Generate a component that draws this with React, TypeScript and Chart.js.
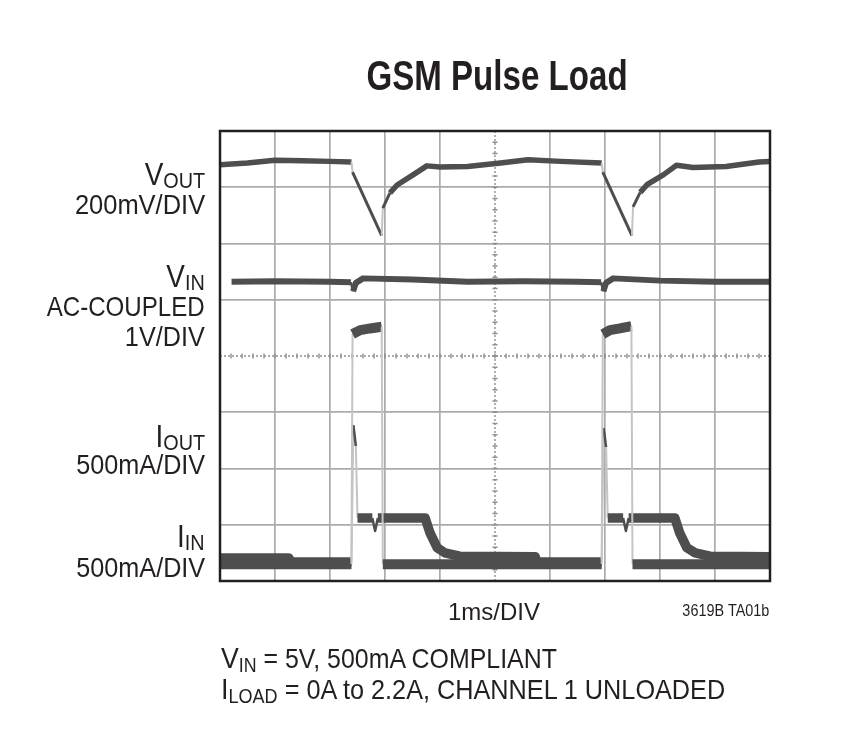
import { useEffect, useRef } from 'react';
import { Chart } from 'chart.js/auto';

// screen units: time in ms (1ms/DIV), amplitude in divisions from centre
const timeVout = [0, 0.5, 1.0, 1.5, 2.0, 2.39, 2.41, 2.94, 2.96, 3.09, 3.22, 3.51, 3.76, 4.0, 4.5, 5.1, 5.6, 6.2, 6.94, 6.96, 7.49, 7.51, 7.64, 7.77, 8.06, 8.3, 8.6, 9.2, 9.8, 10];
const vout = [3.40, 3.43, 3.48, 3.47, 3.46, 3.45, 3.27, 2.14, 2.63, 2.90, 3.04, 3.22, 3.38, 3.36, 3.37, 3.43, 3.49, 3.46, 3.43, 3.27, 2.14, 2.65, 2.91, 3.05, 3.22, 3.39, 3.35, 3.37, 3.45, 3.46];

const timeVin = [0.21, 1.0, 2.0, 2.38, 2.42, 2.47, 2.6, 3.5, 4.5, 5.5, 6.5, 6.93, 6.97, 7.02, 7.15, 8.0, 9.0, 10];
const vin = [1.32, 1.33, 1.32, 1.31, 1.15, 1.30, 1.38, 1.36, 1.32, 1.33, 1.32, 1.31, 1.15, 1.30, 1.38, 1.34, 1.32, 1.32];

const timeIout = [0, 2.39, 2.41, 2.55, 2.73, 2.94, 2.96, 6.94, 6.96, 7.09, 7.27, 7.48, 7.50, 10];
const iout = [-3.70, -3.70, 0.39, 0.46, 0.49, 0.52, -3.70, -3.70, 0.39, 0.46, 0.49, 0.53, -3.70, -3.70];

const timeIin = [0, 1.25, 1.29, 2.39, 2.425, 2.47, 2.50, 2.77, 2.82, 2.87, 3.73, 3.82, 3.95, 4.09, 4.36, 5.73, 5.76, 6.94, 6.975, 7.02, 7.05, 7.33, 7.38, 7.43, 8.27, 8.36, 8.49, 8.64, 8.91, 10];
const iin = [-3.59, -3.59, -3.66, -3.66, -1.23, -1.60, -2.88, -2.88, -3.11, -2.88, -2.88, -3.15, -3.41, -3.50, -3.56, -3.57, -3.66, -3.66, -1.28, -1.62, -2.88, -2.88, -3.11, -2.88, -2.88, -3.15, -3.41, -3.50, -3.56, -3.57];

const INK = '#231f20';
const TRACE = '#4e4e4e';
const EDGE = '#c4c4c4';
const GRID = '#ababab';
const FONT = '"Liberation Sans", Arial, Helvetica, sans-serif';

const pts = (t: number[], v: number[]) => t.map((x, i) => ({ x, y: v[i] }));

// fast edges of the scope trace show up faint
const steep = (ctx: any) => Math.abs(ctx.p1.x - ctx.p0.x) < 2 && Math.abs(ctx.p1.y - ctx.p0.y) > 9;

const scopePlugin = {
  id: 'scope',
  beforeDatasetsDraw(chart: any) {
    const { ctx, chartArea: a, scales } = chart;
    const sx = scales.x;
    const sy = scales.y;
    const cx = sx.getPixelForValue(5);
    const cy = sy.getPixelForValue(0);
    ctx.save();
    ctx.strokeStyle = '#8f8f8f';
    ctx.lineWidth = 1.4;
    ctx.setLineDash([2, 2]);
    ctx.beginPath();
    ctx.moveTo(a.left, cy);
    ctx.lineTo(a.right, cy);
    ctx.moveTo(cx, a.top);
    ctx.lineTo(cx, a.bottom);
    ctx.stroke();
    ctx.setLineDash([]);
    ctx.beginPath();
    for (let i = 1; i < 50; i++) {
      const px = sx.getPixelForValue(i * 0.2);
      ctx.moveTo(px, cy - 2.5);
      ctx.lineTo(px, cy + 2.5);
    }
    for (let i = 1; i < 40; i++) {
      const py = sy.getPixelForValue(-4 + i * 0.2);
      ctx.moveTo(cx - 2.5, py);
      ctx.lineTo(cx + 2.5, py);
    }
    ctx.stroke();
    ctx.restore();
  },
  afterDatasetsDraw(chart: any) {
    const { ctx, chartArea: a } = chart;
    ctx.save();
    ctx.strokeStyle = INK;
    ctx.lineWidth = 2.5;
    ctx.strokeRect(a.left, a.top, a.right - a.left, a.bottom - a.top);
    ctx.restore();
  },
};

// quick slopes leave only a thin line on the screen
function trace(data: { x: number; y: number }[], width: number, slimBelow: number, slimWidth: number) {
  return {
    data,
    borderColor: TRACE,
    borderWidth: width,
    pointRadius: 0,
    tension: 0,
    borderJoinStyle: 'round' as const,
    segment: {
      borderColor: (ctx: any) => (steep(ctx) ? EDGE : undefined),
      borderWidth: (ctx: any) => {
        if (steep(ctx)) return 2;
        const dx = Math.abs(ctx.p1.x - ctx.p0.x);
        const dy = Math.abs(ctx.p1.y - ctx.p0.y);
        return dx / Math.hypot(dx, dy) < slimBelow ? slimWidth : undefined;
      },
    },
  };
}

function ScopeChart() {
  const canvasRef = useRef<HTMLCanvasElement>(null);
  const chartRef = useRef<Chart | null>(null);

  useEffect(() => {
    if (!canvasRef.current) return;
    chartRef.current?.destroy();
    const grid = (edge: number[]) => ({
      color: (c: any) => (edge.includes(c.tick.value) ? 'transparent' : GRID),
      lineWidth: 1.7,
      drawTicks: false,
    });
    chartRef.current = new Chart(canvasRef.current, {
      type: 'line',
      data: {
        datasets: [
          trace(pts(timeIout, iout), 10, 0.25, 2.5),
          trace(pts(timeIin, iin), 9.5, 0.25, 2.5),
          trace(pts(timeVin, vin), 6, 0.25, 2.5),
          trace(pts(timeVout, vout), 5.5, 0.5, 3),
        ],
      },
      options: {
        responsive: false,
        animation: false,
        parsing: false,
        layout: { padding: { left: 220, right: 75, top: 131, bottom: 149 } },
        plugins: { legend: { display: false }, tooltip: { enabled: false } },
        scales: {
          x: { type: 'linear', min: 0, max: 10, ticks: { display: false, stepSize: 1 }, grid: grid([0, 5, 10]), border: { display: false } },
          y: { type: 'linear', min: -4, max: 4, ticks: { display: false, stepSize: 1 }, grid: grid([-4, 0, 4]), border: { display: false } },
        },
      },
      plugins: [scopePlugin],
    });
    return () => chartRef.current?.destroy();
  }, []);

  return <canvas ref={canvasRef} width={845} height={730} style={{ position: 'absolute', left: 0, top: 0 }} />;
}

type TxtProps = { x: number; base: number; size: number; align?: 'left' | 'right' | 'center'; sx?: number; bold?: boolean; children: React.ReactNode };

function Txt({ x, base, size, align = 'left', sx = 1, bold = false, children }: TxtProps) {
  const style: React.CSSProperties = {
    position: 'absolute',
    top: base - 0.8465 * size,
    fontSize: size,
    lineHeight: 1,
    whiteSpace: 'nowrap',
    fontFamily: FONT,
    fontWeight: bold ? 700 : 400,
    color: INK,
    transform: `scaleX(${sx})`,
  };
  if (align === 'left') {
    style.left = x;
    style.transformOrigin = 'left top';
  } else if (align === 'right') {
    style.right = 845 - x;
    style.textAlign = 'right';
    style.transformOrigin = 'right top';
  } else {
    style.left = x - 300;
    style.width = 600;
    style.textAlign = 'center';
    style.transformOrigin = 'center top';
  }
  return <div style={style}>{children}</div>;
}

const Sub = ({ size, drop, children }: { size: number; drop: number; children: React.ReactNode }) => (
  <span style={{ fontSize: size, position: 'relative', top: drop }}>{children}</span>
);
const Rest = ({ size, children }: { size: number; children: React.ReactNode }) => <span style={{ fontSize: size }}>{children}</span>;

export default function App() {
  return (
    <div style={{ position: 'absolute', left: 0, top: 0, width: 845, height: 730, background: '#fff', overflow: 'hidden' }}>
      <ScopeChart />
      <Txt x={497} base={90} size={43} align="center" sx={0.77} bold>GSM Pulse Load</Txt>

      <Txt x={205} base={185} size={31} align="right" sx={0.9}>V<Sub size={22} drop={3}>OUT</Sub></Txt>
      <Txt x={205} base={215} size={28} align="right" sx={0.91}>200mV/DIV</Txt>
      <Txt x={205} base={287} size={31} align="right" sx={0.9}>V<Sub size={22} drop={3}>IN</Sub></Txt>
      <Txt x={205} base={317} size={28} align="right" sx={0.86}>AC-COUPLED</Txt>
      <Txt x={205} base={347} size={28} align="right" sx={0.9}>1V/DIV</Txt>
      <Txt x={205} base={447} size={31} align="right" sx={0.9}>I<Sub size={22} drop={3}>OUT</Sub></Txt>
      <Txt x={205} base={475} size={28} align="right" sx={0.9}>500mA/DIV</Txt>
      <Txt x={205} base={547} size={31} align="right" sx={0.9}>I<Sub size={22} drop={3}>IN</Sub></Txt>
      <Txt x={205} base={578} size={28} align="right" sx={0.9}>500mA/DIV</Txt>

      <Txt x={494} base={620} size={24} align="center">1ms/DIV</Txt>
      <Txt x={769} base={616} size={17} align="right" sx={0.85}>3619B TA01b</Txt>

      <Txt x={221} base={668} size={30} sx={0.89}>V<Sub size={20} drop={4}>IN</Sub><Rest size={28}> = 5V, 500mA COMPLIANT</Rest></Txt>
      <Txt x={221} base={699} size={30} sx={0.902}>I<Sub size={20} drop={4}>LOAD</Sub><Rest size={28}> = 0A to 2.2A, CHANNEL 1 UNLOADED</Rest></Txt>
    </div>
  );
}
